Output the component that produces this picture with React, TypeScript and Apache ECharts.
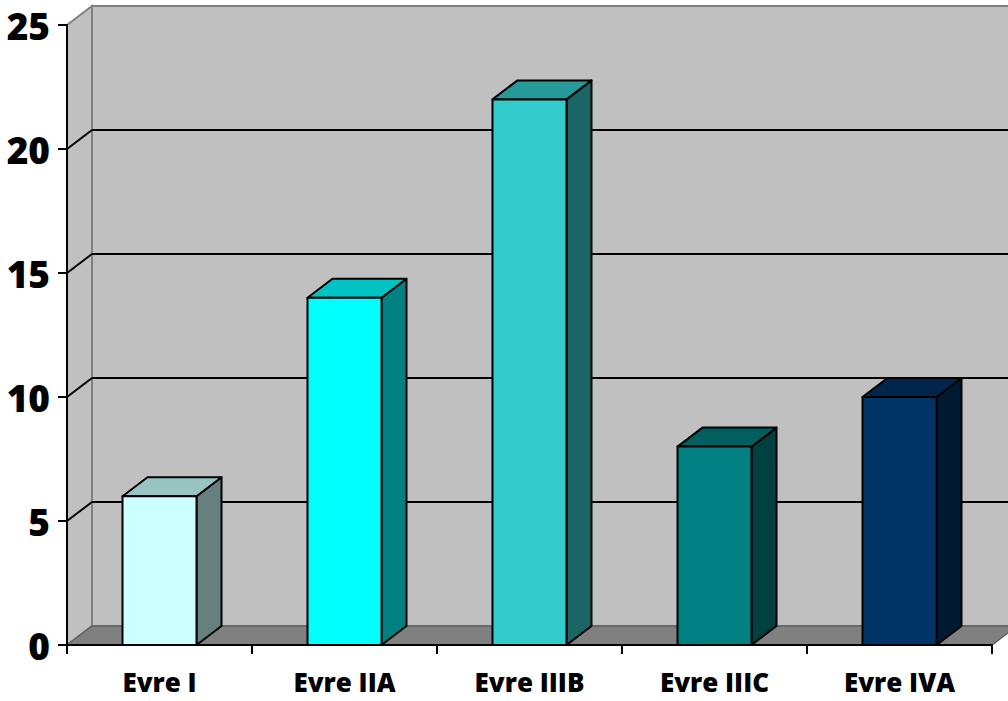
import React, { useEffect, useRef } from "react";
import * as echarts from "echarts";

const categories = ["Evre I", "Evre IIA", "Evre IIIB", "Evre IIIC", "Evre IVA"];
const values = [6, 14, 22, 8, 10];
const gridTicks = [5, 10, 15, 20];
const frontColors = ["#CCFFFF", "#00FFFF", "#33CCCC", "#008080", "#003366"];
const topColors = ["#99C4C4", "#00C4C4", "#269999", "#006060", "#00264D"];
const sideColors = ["#668080", "#008080", "#1A6666", "#004040", "#001A33"];

const DX = 25;
const DY = -19;

export default function App() {
  const ref = useRef<HTMLDivElement>(null);
  useEffect(() => {
    if (!ref.current) return;
    const chart = echarts.init(ref.current, null, { renderer: "svg" });
    const font = "'Open Sans', sans-serif";
    chart.setOption({
      animation: false,
      backgroundColor: "#ffffff",
      grid: { left: 67, right: 16, top: 25, bottom: 56 },
      xAxis: {
        type: "category",
        data: categories,
        axisLine: { show: true, lineStyle: { color: "#000", width: 2 } },
        axisTick: { show: true, length: 9, lineStyle: { color: "#000", width: 2 } },
        axisLabel: { color: "#000", fontFamily: font, fontWeight: 800, fontSize: 26, margin: 24 },
        z: 10,
      },
      yAxis: {
        type: "value",
        min: 0,
        max: 25,
        interval: 5,
        axisLine: { show: true, lineStyle: { color: "#000", width: 2 } },
        axisTick: { show: true, length: 9, lineStyle: { color: "#000", width: 2 } },
        axisLabel: { color: "#000", fontFamily: font, fontWeight: 800, fontSize: 37, margin: 17 },
        splitLine: { show: false },
        z: 10,
      },
      series: [
        {
          type: "custom",
          clip: false,
          z: 1,
          data: [[0, 0]],
          renderItem: (params: any, api: any) => {
            const cs = params.coordSys;
            const x0 = cs.x, x1 = cs.x + cs.width, yT = cs.y, yB = cs.y + cs.height;
            return {
              type: "group",
              children: [
                {
                  type: "polygon",
                  shape: { points: [[x0 + DX, yT + DY], [x1 + DX, yT + DY], [x1 + DX, yB + DY], [x0 + DX, yB + DY]] },
                  style: { fill: "#C0C0C0", stroke: "#808080", lineWidth: 2 },
                },
                {
                  type: "polygon",
                  shape: { points: [[x0, yT], [x0 + DX, yT + DY], [x0 + DX, yB + DY], [x0, yB]] },
                  style: { fill: "#C0C0C0", stroke: "#808080", lineWidth: 2 },
                },
                {
                  type: "polygon",
                  shape: { points: [[x0, yB], [x0 + DX, yB + DY], [x1 + DX, yB + DY], [x1, yB]] },
                  style: { fill: "#808080", stroke: "#606060", lineWidth: 1.5 },
                },
              ],
            };
          },
        },
        {
          type: "custom",
          clip: false,
          z: 2,
          data: gridTicks.map((v) => [0, v]),
          renderItem: (params: any, api: any) => {
            const cs = params.coordSys;
            const y = api.coord([0, api.value(1)])[1];
            const x0 = cs.x, x1 = cs.x + cs.width;
            return {
              type: "group",
              children: [
                { type: "line", shape: { x1: x0, y1: y, x2: x0 + DX, y2: y + DY }, style: { stroke: "#000", lineWidth: 2 } },
                { type: "line", shape: { x1: x0 + DX, y1: y + DY, x2: x1 + DX, y2: y + DY }, style: { stroke: "#000", lineWidth: 2 } },
              ],
            };
          },
        },
        {
          type: "custom",
          clip: false,
          z: 3,
          encode: { x: 0, y: 1 },
          data: values.map((v, i) => [i, v]),
          renderItem: (params: any, api: any) => {
            const i = params.dataIndex;
            const top = api.coord([api.value(0), api.value(1)]);
            const base = api.coord([api.value(0), 0]);
            const w = api.size([1, 0])[0] * 0.4;
            const l = top[0] - w / 2, r = top[0] + w / 2;
            const yt = top[1], yb = base[1];
            const border = { stroke: "#000", lineWidth: 2, lineJoin: "round" };
            return {
              type: "group",
              children: [
                {
                  type: "polygon",
                  shape: { points: [[r, yt], [r + DX, yt + DY], [r + DX, yb + DY], [r, yb]] },
                  style: { fill: sideColors[i], ...border },
                },
                {
                  type: "polygon",
                  shape: { points: [[l, yt], [l + DX, yt + DY], [r + DX, yt + DY], [r, yt]] },
                  style: { fill: topColors[i], ...border },
                },
                {
                  type: "rect",
                  shape: { x: l, y: yt, width: w, height: yb - yt },
                  style: { fill: frontColors[i], ...border },
                },
              ],
            };
          },
        },
      ],
    });
    return () => chart.dispose();
  }, []);
  return <div ref={ref} style={{ position: "fixed", left: 0, top: 0, width: 1008, height: 701 }} />;
}
